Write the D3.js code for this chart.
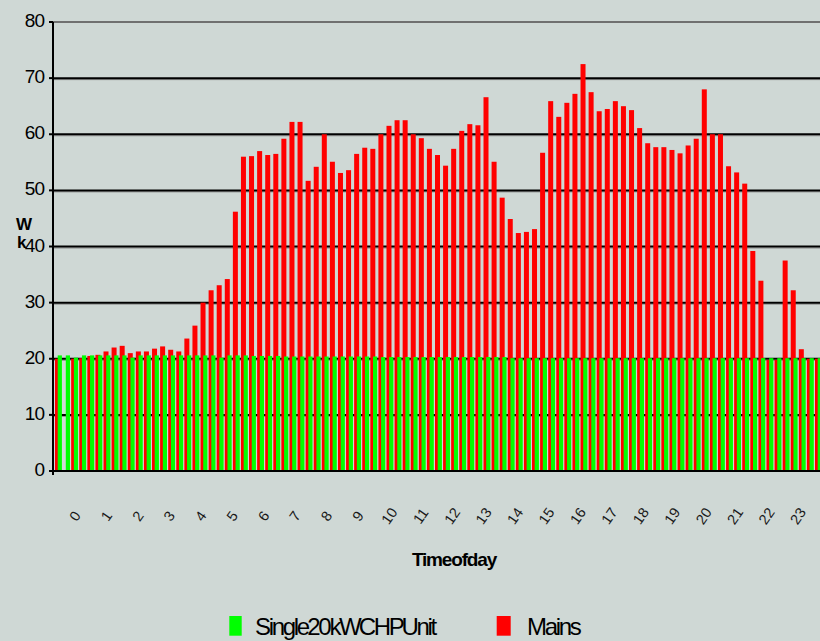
<!DOCTYPE html>
<html>
<head>
<meta charset="utf-8">
<script src="https://cdn.jsdelivr.net/npm/d3@7"></script>
<style>
html,body{margin:0;padding:0;background:#cfd8d5;}
svg{display:block;font-family:"Liberation Sans",Arial,sans-serif;}
</style>
</head>
<body>
<svg id="chart" width="820" height="641"></svg>
<script>
// 15-minute slots (96 per day)
const slots = d3.range(96);
const hours = d3.range(24);
const yTicks = [0,10,20,30,40,50,60,70,80];

const mains = [
20.0, 0, 20.0, 20.1, 20.5, 20.7, 21.3, 22.0, 22.3, 21.0, 21.3, 21.3, 21.8, 22.2, 21.6, 21.3, 23.6, 25.9, 30.0, 32.2, 33.1, 34.2, 46.2, 56.0,
56.1, 57.0, 56.3, 56.5, 59.2, 62.2, 62.2, 51.7, 54.2, 60.0, 55.1, 53.1, 53.6, 56.5, 57.6, 57.4, 60.0, 61.5, 62.5, 62.5, 60.0, 59.3, 57.4,
56.3, 54.4, 57.4, 60.6, 61.8, 61.6, 66.6, 55.1, 48.7, 44.9, 42.4, 42.6, 43.1, 56.7, 65.9, 63.1, 65.6, 67.2, 72.5, 67.5, 64.1, 64.5, 65.9, 65.0,
64.3, 61.1, 58.4, 57.7, 57.7, 57.2, 56.6, 58.0, 59.2, 68.0, 60.0, 60.0, 54.3, 53.2, 51.2, 39.2, 33.9, 19.8, 19.8, 37.5, 32.2, 21.7, 20.0, 20.0, 20.0
];
const chp = [
20.6,20.6,20.2,20.6,20.6,20.6,20.6,20.6,20.6,20.2,20.6,20.6,20.6,20.6,20.6,20.6,20.6,20.6,20.6,20.6,20.2,20.6,20.6,20.6,
20.5,20.5,20.5,20.5,20.4,20.4,20.4,20.4,20.4,20.4,20.4,20.4,20.4,20.4,20.4,20.4,20.3,20.3,20.3,20.3,20.3,20.3,20.3,20.3,
20.3,20.3,20.3,20.3,20.3,20.3,20.3,20.3,20.1,20.1,20.1,20.1,20.1,20.1,20.1,20.1,20.1,20.1,20.1,20.1,20.1,20.1,20.1,20.1,
20.1,20.1,20.1,20.1,20.1,20.1,20.1,20.1,20.1,20.1,20.1,20.1,20.1,20.1,20.1,20.1,20.1,20.1,20.1,20.1,20.1,20.1,20.1,20.1
];
const seriesNames = ["Single 20kW CHP Unit", "Mains"];
const seriesColors = ["#00ff00", "#ff0000"];

const svg = d3.select("#chart");
const plotLeft = 53, plotRight = 820;

const y = d3.scaleLinear().domain([0, 80]).range([471, 22]);
const x = d3.scaleBand().domain(slots).range([55, 55 + 96 * 8.085]).padding(0);
const xh = d3.scalePoint().domain(hours).range([75, 798]);

// gridlines
const grid = svg.append("g");
yTicks.filter(v => v > 0).forEach(v => {
  if (v === 80) {
    grid.append("line").attr("x1", plotLeft).attr("x2", plotRight)
      .attr("y1", y(v)).attr("y2", y(v)).attr("stroke", "#707070").attr("stroke-width", 2);
  } else {
    grid.append("line").attr("x1", plotLeft).attr("x2", plotRight)
      .attr("y1", y(v) + 1.5).attr("y2", y(v) + 1.5).attr("stroke", "#8a8a8a").attr("stroke-width", 1);
    grid.append("line").attr("x1", plotLeft).attr("x2", plotRight)
      .attr("y1", y(v)).attr("y2", y(v)).attr("stroke", "#000").attr("stroke-width", 2);
  }
});

// bars
const bars = svg.append("g");
bars.selectAll("rect.m").data(slots).join("rect").attr("class", "m")
  .attr("x", i => x(i)).attr("width", 5)
  .attr("y", i => y(mains[i])).attr("height", i => y(0) - y(mains[i]))
  .attr("fill", seriesColors[1]);
bars.selectAll("rect.c").data(slots).join("rect").attr("class", "c")
  .attr("x", i => x(i) + 2.7).attr("width", 4.2)
  .attr("y", i => y(chp[i])).attr("height", i => y(0) - y(chp[i]))
  .attr("fill", seriesColors[0]);

// axes
svg.append("line").attr("x1", plotLeft).attr("x2", plotLeft).attr("y1", y(80)).attr("y2", y(0) + 1)
  .attr("stroke", "#000").attr("stroke-width", 2);
svg.append("line").attr("x1", plotLeft - 4).attr("x2", plotRight).attr("y1", y(0)).attr("y2", y(0))
  .attr("stroke", "#000").attr("stroke-width", 2);
svg.append("line").attr("x1", plotLeft).attr("x2", plotLeft).attr("y1", y(0)).attr("y2", y(0) + 4)
  .attr("stroke", "#000").attr("stroke-width", 2);

const yAxis = svg.append("g");
yTicks.forEach(v => {
  yAxis.append("line").attr("x1", plotLeft - 4).attr("x2", plotLeft).attr("y1", y(v)).attr("y2", y(v))
    .attr("stroke", "#000").attr("stroke-width", 2);
  yAxis.append("text").attr("x", 44).attr("y", y(v) + 5)
    .attr("text-anchor", "end").attr("font-size", 19).attr("letter-spacing", "-1px")
    .attr("fill", "#000").text(v);
});

// x tick labels (rotated)
svg.append("g").selectAll("text").data(hours).join("text")
  .attr("transform", h => `translate(${xh(h)},516) rotate(-55)`)
  .attr("text-anchor", "middle").attr("dominant-baseline", "central")
  .attr("font-size", 14.5).attr("fill", "#1a1a1a").text(h => h);

// axis titles
svg.append("text").attr("x", 454).attr("y", 566).attr("text-anchor", "middle")
  .attr("font-size", 19).attr("font-weight", "bold").attr("letter-spacing", "-1.2px")
  .attr("word-spacing", "-4px").text("Time of day");
svg.append("text").attr("x", 16).attr("y", 230).attr("font-size", 17).attr("font-weight", "bold").text("W");
svg.append("text").attr("x", 17).attr("y", 248).attr("font-size", 17).attr("font-weight", "bold").text("k");

// legend
const legendX = [229.3, 496.7];
const legendW = [12.4, 14];
const legendTextX = [255, 527];
const lg = svg.append("g");
seriesNames.forEach((name, i) => {
  lg.append("rect").attr("x", legendX[i]).attr("y", 616).attr("width", legendW[i]).attr("height", 19.7)
    .attr("fill", seriesColors[i]);
  lg.append("text").attr("x", legendTextX[i]).attr("y", 635).attr("font-size", 24)
    .attr("letter-spacing", "-2.3px").attr("word-spacing", "-5px").attr("fill", "#000").text(name);
});
</script>
</body>
</html>
